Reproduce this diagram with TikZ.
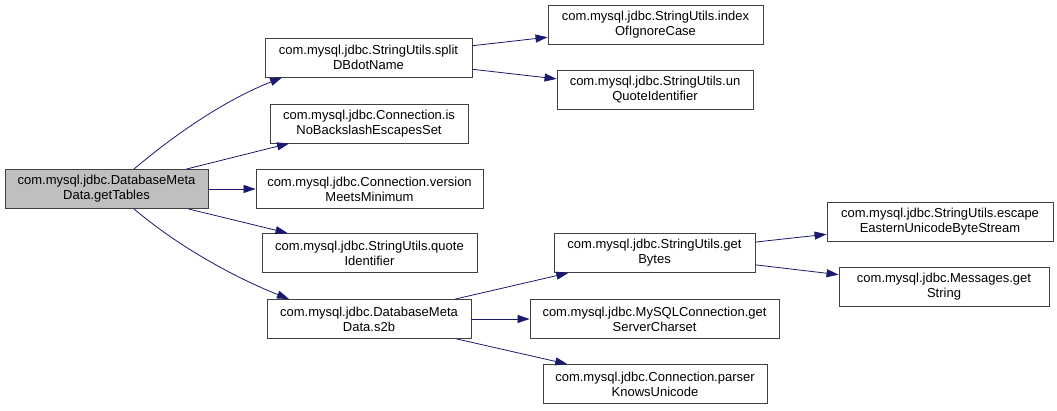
\documentclass[tikz,border=0pt]{standalone}
\usepackage{fontspec}
\setmainfont{Liberation Sans}
\usepackage{xcolor}
\usepackage{tikz}
\usetikzlibrary{arrows.meta, positioning}

\definecolor{edgeblue}{RGB}{25,25,112}
\definecolor{boxgrey}{RGB}{191,191,191}

\begin{document}
\begin{tikzpicture}[x=1pt, y=-1pt, >={Triangle[length=12pt, width=8pt]}]

    % Define styles
    \tikzstyle{func} = [rectangle, minimum height=39pt, inner sep=0pt, align=center, draw=black!75, fill=white, line width=0.9pt, font=\fontsize{13}{15}\selectfont]
    \tikzstyle{caller} = [func, fill=boxgrey]
    \tikzstyle{call} = [->, draw=edgeblue, line width=0.8pt]

    \useasboundingbox (0,0) rectangle (1057,411);

    % Nodes
    \node (tables) [caller, minimum width=203pt] at (106.5,189) {com.mysql.jdbc.DatabaseMeta\\Data.getTables};
    \node (split) [func, minimum width=207pt] at (368.5,57.5) {com.mysql.jdbc.StringUtils.split\\DBdotName};
    \node (nobs) [func, minimum width=198pt] at (369,123.5) {com.mysql.jdbc.Connection.is\\NoBackslashEscapesSet};
    \node (version) [func, minimum width=227pt] at (369.5,189) {com.mysql.jdbc.Connection.version\\MeetsMinimum};
    \node (quote) [func, minimum width=215pt] at (369.5,253) {com.mysql.jdbc.StringUtils.quote\\Identifier};
    \node (s2b) [func, minimum width=204pt] at (369,319) {com.mysql.jdbc.DatabaseMeta\\Data.s2b};
    \node (index) [func, minimum width=215pt] at (655.5,25) {com.mysql.jdbc.StringUtils.index\\OfIgnoreCase};
    \node (unquote) [func, minimum width=196pt] at (655,90) {com.mysql.jdbc.StringUtils.un\\QuoteIdentifier};
    \node (bytes) [func, minimum width=201pt] at (654.5,253) {com.mysql.jdbc.StringUtils.get\\Bytes};
    \node (charset) [func, minimum width=249pt] at (654.5,319) {com.mysql.jdbc.MySQLConnection.get\\ServerCharset};
    \node (parser) [func, minimum width=224pt] at (655,384) {com.mysql.jdbc.Connection.parser\\KnowsUnicode};
    \node (escape) [func, minimum width=226pt] at (940,222) {com.mysql.jdbc.StringUtils.escape\\EasternUnicodeByteStream};
    \node (msg) [func, minimum width=210pt] at (944,287) {com.mysql.jdbc.Messages.get\\String};

    % Arrows
    \draw [call] (tables.36) .. controls +(45,-38) and +(-55,22) .. (split.193);
    \draw [call] (tables) -- (nobs);
    \draw [call] (tables) -- (version);
    \draw [call] (tables) -- (quote);
    \draw [call] (tables.-36) .. controls +(45,38) and +(-55,-22) .. (s2b.166);
    \draw [call] (split) -- (index);
    \draw [call] (split) -- (unquote);
    \draw [call] (s2b) -- (bytes);
    \draw [call] (s2b) -- (charset);
    \draw [call] (s2b) -- (parser);
    \draw [call] (bytes) -- (escape);
    \draw [call] (bytes) -- (msg);

\end{tikzpicture}
\end{document}
